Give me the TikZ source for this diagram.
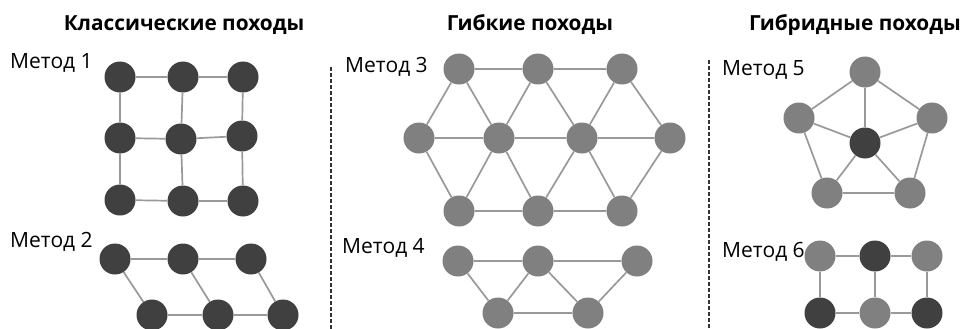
\documentclass[tikz,border=0pt]{standalone}
\usepackage{fontspec}
\setmainfont{Open Sans}
\begin{document}
\begin{tikzpicture}[x=1pt,y=-1pt,
  dk/.style={circle,fill=black!75,minimum size=31pt,inner sep=0pt},
  gy/.style={circle,fill=black!50,minimum size=31pt,inner sep=0pt},
  edge/.style={draw=black!40,line width=1.7pt},
  sep/.style={draw=black!80,line width=1.5pt,dash pattern=on 4pt off 2pt},
  ttl/.style={font=\fontsize{20.8}{24}\selectfont\bfseries,anchor=base},
  lbl/.style={font=\fontsize{21}{24}\selectfont,anchor=base west,inner sep=0pt}]
\useasboundingbox (0,0) rectangle (971,329);
% titles
\node[ttl] (t1) at (184,31) {Классические походы};
\node[ttl] (t2) at (530,31) {Гибкие походы};
\node[ttl] (t3) at (855,31) {Гибридные походы};
% separators
\coordinate (s1a) at (331,67); \coordinate (s1b) at (331,329);
\coordinate (s2a) at (709,60); \coordinate (s2b) at (709,329);
\draw[sep] (s1a) -- (s1b);
\draw[sep] (s2a) -- (s2b);
% labels
\node[lbl] (l1) at (10,68) {Метод 1};
\node[lbl] (l2) at (10,247) {Метод 2};
\node[lbl] (l3) at (345,72) {Метод 3};
\node[lbl] (l4) at (342,253) {Метод 4};
\node[lbl] (l5) at (722,75) {Метод 5};
\node[lbl] (l6) at (722,257) {Метод 6};
% Method 1
\node[dk] (a11) at (120,77) {}; \node[dk] (a12) at (183,77) {}; \node[dk] (a13) at (243,77) {};
\node[dk] (a21) at (120,138) {}; \node[dk] (a22) at (181,139) {}; \node[dk] (a23) at (242,136) {};
\node[dk] (a31) at (120,200) {}; \node[dk] (a32) at (183,201) {}; \node[dk] (a33) at (243,201) {};
\path[edge] (a11)--(a12) (a12)--(a13) (a21)--(a22) (a22)--(a23) (a31)--(a32) (a32)--(a33)
  (a11)--(a21) (a21)--(a31) (a12)--(a22) (a22)--(a32) (a13)--(a23) (a23)--(a33);
% Method 2
\node[dk] (b1) at (115,259) {}; \node[dk] (b2) at (183,259) {}; \node[dk] (b3) at (251,259) {};
\node[dk] (b4) at (152,315) {}; \node[dk] (b5) at (218,315) {}; \node[dk] (b6) at (283,315) {};
\path[edge] (b1)--(b2) (b2)--(b3) (b4)--(b5) (b5)--(b6) (b1)--(b4) (b2)--(b5) (b3)--(b6);
% Method 3
\node[gy] (c1) at (459,69) {}; \node[gy] (c2) at (538,69) {}; \node[gy] (c3) at (622,69) {};
\node[gy] (c4) at (419,138) {}; \node[gy] (c5) at (499,138) {}; \node[gy] (c6) at (582,138) {}; \node[gy] (c7) at (670,138) {};
\node[gy] (c8) at (459,211) {}; \node[gy] (c9) at (538,211) {}; \node[gy] (c10) at (622,211) {};
\path[edge] (c1)--(c2) (c2)--(c3) (c4)--(c5) (c5)--(c6) (c6)--(c7) (c8)--(c9) (c9)--(c10)
  (c1)--(c4) (c1)--(c5) (c2)--(c5) (c2)--(c6) (c3)--(c6) (c3)--(c7)
  (c4)--(c8) (c5)--(c8) (c5)--(c9) (c6)--(c9) (c6)--(c10) (c7)--(c10);
% Method 4
\node[gy] (d1) at (458,261) {}; \node[gy] (d2) at (538,261) {}; \node[gy] (d3) at (637,261) {};
\node[gy] (d4) at (498,313) {}; \node[gy] (d5) at (588,313) {};
\path[edge] (d1)--(d2) (d2)--(d3) (d4)--(d5) (d1)--(d4) (d2)--(d4) (d2)--(d5) (d3)--(d5);
% Method 5
\node[gy] (e1) at (865,72) {}; \node[gy] (e2) at (799,118) {}; \node[gy] (e3) at (932,118) {};
\node[gy] (e4) at (827,193) {}; \node[gy] (e5) at (910,193) {}; \node[dk] (e0) at (865,143) {};
\path[edge] (e1)--(e2) (e1)--(e3) (e2)--(e4) (e3)--(e5) (e4)--(e5)
  (e0)--(e1) (e0)--(e2) (e0)--(e3) (e0)--(e4) (e0)--(e5);
% Method 6
\node[gy] (f1) at (820,256) {}; \node[dk] (f2) at (875,256) {}; \node[gy] (f3) at (927,256) {};
\node[dk] (f4) at (820,313) {}; \node[gy] (f5) at (875,313) {}; \node[dk] (f6) at (927,313) {};
\path[edge] (f1)--(f2) (f2)--(f3) (f4)--(f5) (f5)--(f6) (f1)--(f4) (f2)--(f5) (f3)--(f6);
\end{tikzpicture}
\end{document}
